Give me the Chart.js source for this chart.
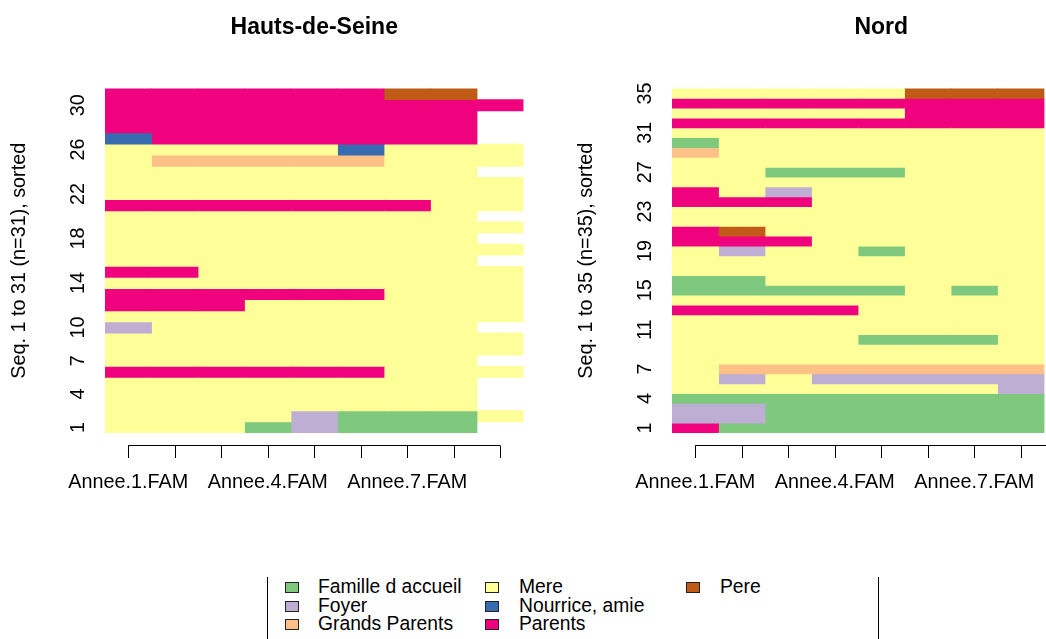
<!DOCTYPE html>
<html>
<head>
<meta charset="utf-8">
<script src="https://cdn.jsdelivr.net/npm/chart.js@4.4.1/dist/chart.umd.min.js"></script>
<style>
  body { margin: 0; background: #fff; overflow: hidden; }
  #page { position: relative; width: 1046px; height: 639px; overflow: hidden; font-family: "Liberation Sans", Arial, sans-serif; }
  canvas { position: absolute; top: 0; }
  #left-canvas { left: 0; }
  #right-canvas { left: 560px; }
  .leg-line { position: absolute; top: 577px; width: 1px; height: 70px; background: #000; }
  .leg-box { position: absolute; width: 12px; height: 9px; border: 1px solid #222; }
  .leg-text { position: absolute; font-size: 19.3px; line-height: 20px; color: #000; white-space: nowrap; }
</style>
</head>
<body>
<div id="page">
  <canvas id="left-canvas" width="560" height="520"></canvas>
  <canvas id="right-canvas" width="540" height="520"></canvas>
  <div id="legend"></div>
</div>
<script>
/**
 * States (alphabet) and their colours
 */
const STATE_CODES = ['A', 'F', 'G', 'M', 'N', 'P', 'R'];
const STATE_NAMES = ['Famille d accueil', 'Foyer', 'Grands Parents', 'Mere', 'Nourrice, amie', 'Parents', 'Pere'];
const STATE_COLORS = ['#7FC97F', '#BEAED4', '#FDC086', '#FFFF99', '#386CB0', '#F0027F', '#BF5B17'];

// sequences, row 1 (bottom) first, one char per year, '.' = missing
const SEQ_HAUTS_DE_SEINE = [
    'MMMAFAAA.', 'MMMMFAAAM', 'MMMMMMMM.', 'MMMMMMMM.', 'MMMMMMMM.',
    'PPPPPPMMM', 'MMMMMMMM.', 'MMMMMMMMM', 'MMMMMMMMM', 'FMMMMMMM.',
    'MMMMMMMMM', 'PPPMMMMMM', 'PPPPPPMMM', 'MMMMMMMMM', 'PPMMMMMMM',
    'MMMMMMMM.', 'MMMMMMMMM', 'MMMMMMMM.', 'MMMMMMMMM', 'MMMMMMMM.',
    'PPPPPPPMM', 'MMMMMMMMM', 'MMMMMMMMM', 'MMMMMMMM.', 'MGGGGGMMM',
    'MMMMMNMMM', 'NPPPPPPP.', 'PPPPPPPP.', 'PPPPPPPP.', 'PPPPPPPPP',
    'PPPPPPRR.'
];
const SEQ_NORD = [
    'PAAAAAAA', 'FFAAAAAA', 'FFAAAAAA', 'AAAAAAAA', 'MMMMMMMF',
    'MFMFFFFF', 'MGGGGGGG', 'MMMMMMMM', 'MMMMMMMM', 'MMMMAAAM',
    'MMMMMMMM', 'MMMMMMMM', 'PPPPMMMM', 'MMMMMMMM', 'AAAAAMAM',
    'AAMMMMMM', 'MMMMMMMM', 'MMMMMMMM', 'MFMMAMMM', 'PPPMMMMM',
    'PRMMMMMM', 'MMMMMMMM', 'MMMMMMMM', 'PPPMMMMM', 'PMFMMMMM',
    'MMMMMMMM', 'MMAAAMMM', 'MMMMMMMM', 'GMMMMMMM', 'AMMMMMMM',
    'MMMMMMMM', 'PPPPPPPP', 'MMMMMPPP', 'PPPPPPPP', 'MMMMMRRR'
];

const N_YEARS = 9;
const X_TICK_POS = [1, 4, 7];
const X_TICK_LABELS = ['Annee.1.FAM', 'Annee.4.FAM', 'Annee.7.FAM'];
const Y_TICKS_HAUTS_DE_SEINE = [1, 4, 7, 10, 14, 18, 22, 26, 30];
const Y_TICKS_NORD = [1, 4, 7, 11, 15, 19, 23, 27, 31, 35];

const FONT = '"Liberation Sans", Arial, sans-serif';

/**
 * Draws the R-like titles and axes around the plot region
 */
const rAxes = {
    id: 'rAxes',
    afterDraw(chart, args, opts) {
        const { ctx, chartArea: a, scales: { x, y } } = chart;
        ctx.save();
        ctx.fillStyle = '#000';
        ctx.strokeStyle = '#000';
        ctx.textAlign = 'center';
        ctx.textBaseline = 'middle';

        ctx.font = 'bold 23px ' + FONT;
        ctx.fillText(opts.title, (a.left + a.right) / 2, 28);

        // x axis
        const axY = 445.5;
        ctx.lineWidth = 1;
        ctx.beginPath();
        ctx.moveTo(x.getPixelForValue(0.5), axY);
        ctx.lineTo(x.getPixelForValue(N_YEARS - 0.5), axY);
        for (let k = 1; k <= N_YEARS; k++) {
            const px = Math.round(x.getPixelForValue(k - 0.5)) + 0.5;
            ctx.moveTo(px, axY);
            ctx.lineTo(px, axY + 12.5);
        }
        ctx.stroke();

        ctx.font = '19.8px ' + FONT;
        X_TICK_POS.forEach((p, i) => {
            ctx.fillText(X_TICK_LABELS[i], x.getPixelForValue(p - 0.5), 483);
        });

        // y tick labels, rotated
        opts.yTicks.forEach(v => {
            ctx.save();
            ctx.translate(a.left - 26, y.getPixelForValue(v - 1));
            ctx.rotate(-Math.PI / 2);
            ctx.fillText(String(v), 0, 0);
            ctx.restore();
        });

        ctx.save();
        ctx.translate(a.left - 85, (a.top + a.bottom) / 2);
        ctx.rotate(-Math.PI / 2);
        ctx.fillText(opts.yTitle, 0, 0);
        ctx.restore();

        ctx.restore();
    }
};

/**
 * Builds one sequence index plot
 */
function makeSeqPlot(canvasId, seqs, title, yTicks, padding) {
    const nPos = seqs[0].length;
    let datasets = [];

    for (let k = 0; k < nPos; k++) {
        datasets.push({
            data: seqs.map(s => s[k] === '.' ? null : 1),
            backgroundColor: seqs.map(s => {
                const idx = STATE_CODES.indexOf(s[k]);
                return idx < 0 ? 'rgba(0,0,0,0)' : STATE_COLORS[idx];
            }),
            borderWidth: 0,
            inflateAmount: 0.4,
            barPercentage: 1,
            categoryPercentage: 1
        });
    }

    return new Chart(document.getElementById(canvasId), {
        type: 'bar',
        data: {
            labels: seqs.map((s, i) => String(i + 1)),
            datasets: datasets
        },
        options: {
            indexAxis: 'y',
            responsive: false,
            animation: false,
            devicePixelRatio: 1,
            layout: { padding: padding },
            scales: {
                x: { type: 'linear', min: 0, max: N_YEARS, stacked: true, display: false },
                y: { stacked: true, reverse: true, display: false }
            },
            plugins: {
                legend: { display: false },
                tooltip: { enabled: false },
                rAxes: {
                    title: title,
                    yTicks: yTicks,
                    yTitle: `Seq. 1 to ${seqs.length} (n=${seqs.length}), sorted`
                }
            }
        },
        plugins: [rAxes]
    });
}

makeSeqPlot('left-canvas', SEQ_HAUTS_DE_SEINE, 'Hauts-de-Seine', Y_TICKS_HAUTS_DE_SEINE,
    { left: 105, right: 36.5, top: 88.5, bottom: 87 });
makeSeqPlot('right-canvas', SEQ_NORD, 'Nord', Y_TICKS_NORD,
    { left: 112, right: 9.5, top: 88.5, bottom: 87 });

/**
 * Legend below the plots, three columns filled top to bottom
 */
function buildLegend() {
    const legend = document.getElementById('legend');
    const colBox = [285, 485, 686];
    const colText = [318, 519, 720];
    const rowY = [587, 606, 624];

    let html = '<div class="leg-line" style="left:267px"></div><div class="leg-line" style="left:878px"></div>';
    for (let i = 0; i < STATE_NAMES.length; i++) {
        const c = Math.floor(i / 3);
        const r = i % 3;
        html += `<div class="leg-box" style="left:${colBox[c]}px;top:${rowY[r] - 5}px;background:${STATE_COLORS[i]}"></div>`;
        html += `<div class="leg-text" style="left:${colText[c]}px;top:${rowY[r] - 10}px">${STATE_NAMES[i]}</div>`;
    }
    legend.innerHTML = html;
}
buildLegend();
</script>
</body>
</html>
